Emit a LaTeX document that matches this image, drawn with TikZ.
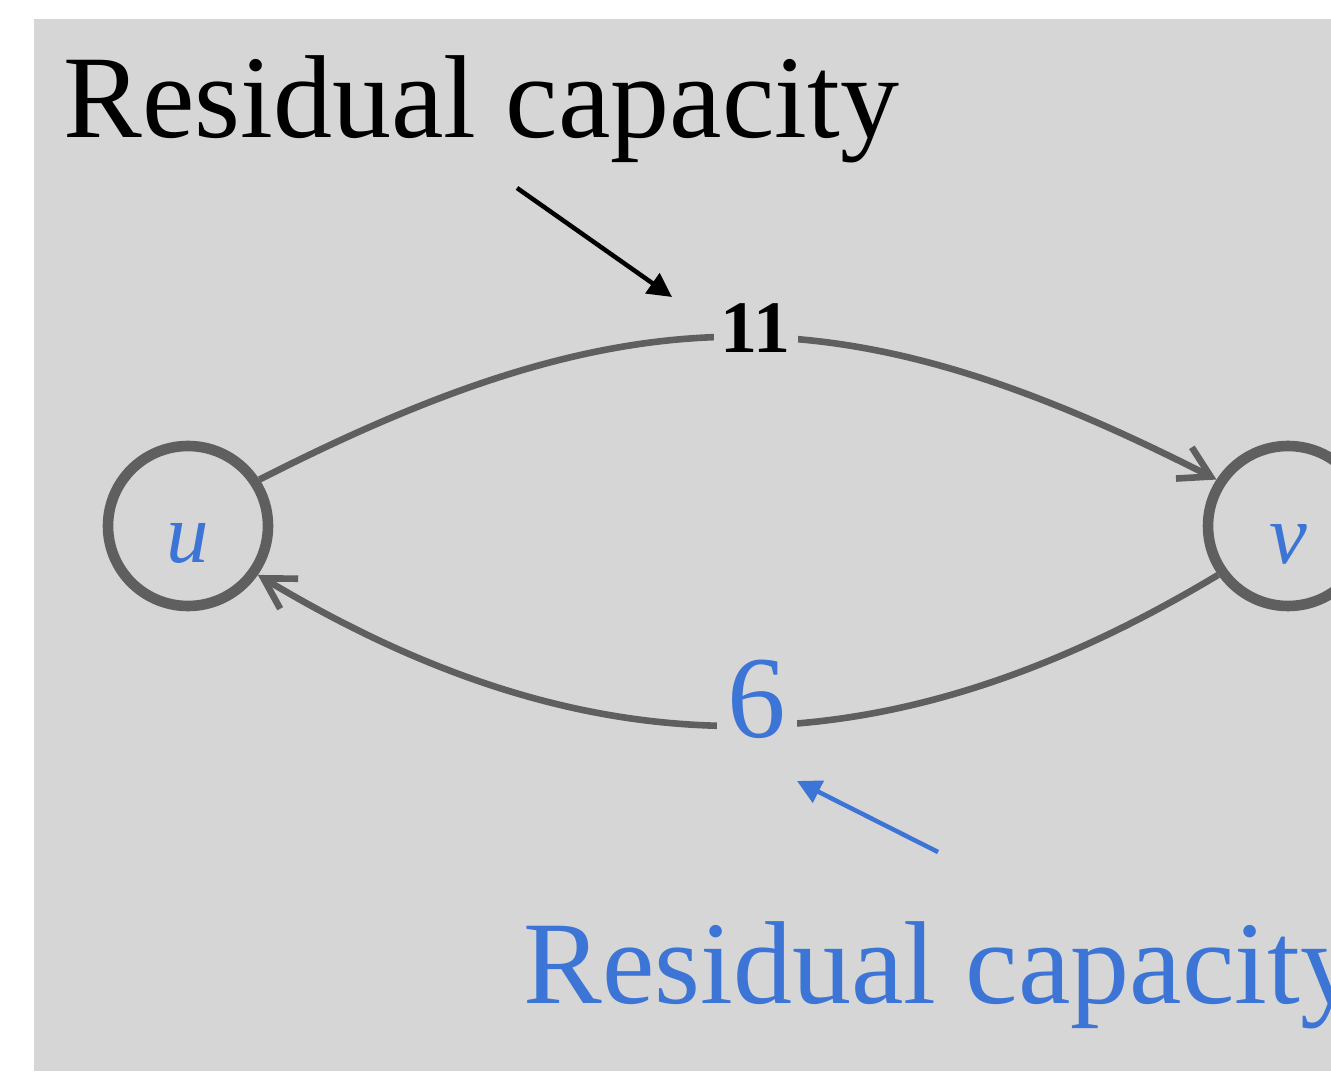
\documentclass[tikz,border=0pt]{standalone}
\usepackage{fontspec}
\setmainfont{Liberation Serif}
\usetikzlibrary{arrows.meta}
\definecolor{panel}{RGB}{214,214,214}
\definecolor{edgegray}{RGB}{95,95,95}
\definecolor{accent}{RGB}{60,117,213}
\tikzset{
  vertex/.style={circle, draw=edgegray, line width=5.3pt, minimum size=80pt, inner sep=0pt},
  vname/.style={text=accent, font=\fontsize{42.5}{50}\selectfont\itshape, inner sep=0pt, anchor=base},
  flow/.style={draw=edgegray, line width=3.3pt, -{Straight Barb[length=15pt,width=17.5pt]}},
  capbox/.style={fill=panel, inner ysep=4pt},
  heading/.style={font=\fontsize{59}{66}\selectfont, inner sep=0pt, anchor=base west},
  pointer/.style={line width=2.25pt, -{Triangle[length=12pt,width=12pt]}},
}
\begin{document}
\begin{tikzpicture}[x=0.5pt,y=0.5pt]
\useasboundingbox (0,0) rectangle (1331,1071);
\clip (0,0) rectangle (1331,1071);
% page and panel
\fill[white] (0,0) rectangle (1331,1071);
\fill[panel] (34,0) rectangle (1331,1052);

% vertices
\node[vertex] (u) at (188,545) {};
\node[vertex] (v) at (1288,545) {};
\node[vname] (ulab) at (188,508) {u};
\node[vname] (vlab) at (1288,507) {v};

% forward and backward residual edges
\draw[flow] (u.33) to[out=27,in=153,looseness=1.12]
  node[pos=0.52, capbox, inner xsep=3.5pt, yshift=4.5pt, font=\fontsize{37}{44}\selectfont\bfseries] (w11) {11} (v.147);
\draw[flow] (v.215) to[out=211,in=329,looseness=1.04]
  node[pos=0.48, capbox, inner xsep=5.5pt, yshift=13pt, text=accent, font=\fontsize{58.5}{66}\selectfont] (w6) {6} (u.-35);

% captions
\node[heading] (t1) at (63,933) {Residual capacity};
\node[heading, text=accent] (t2) at (523,68) {Residual capacity};

% pointers from captions to the edge labels
\coordinate (p1a) at (517,883);
\coordinate (p1b) at (672,774);
\draw[pointer] (p1a) -- (p1b);
\coordinate (p2a) at (938,219);
\coordinate (p2b) at (797,290);
\draw[pointer, accent] (p2a) -- (p2b);
\end{tikzpicture}
\end{document}
